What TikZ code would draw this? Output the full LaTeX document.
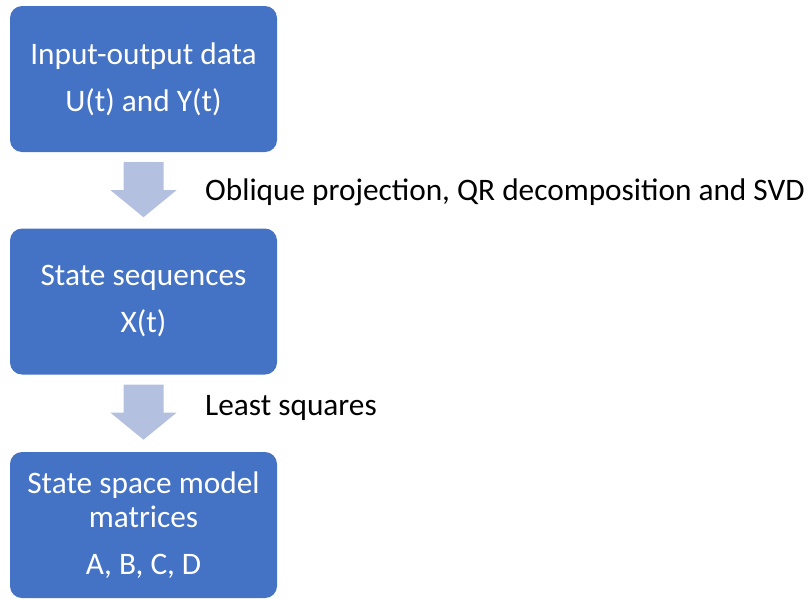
\documentclass[tikz,border=0pt]{standalone}
\usepackage{fontspec}
\setmainfont{Carlito}
\usetikzlibrary{calc}
\definecolor{boxblue}{HTML}{4472C4}
\definecolor{arrowblue}{HTML}{B4C0E0}
\begin{document}
\begin{tikzpicture}[x=1pt,y=-1pt,
  procbox/.style={fill=boxblue, draw=none, rounded corners=12pt, minimum width=267pt, minimum height=146pt, text=white, align=center, font=\fontsize{31.3}{34}\selectfont, inner sep=0pt},
  steplabel/.style={anchor=base west, inner sep=0pt, font=\fontsize{31.3}{34}\selectfont, text=black},
  blockarrow/.style={fill=arrowblue, draw=none}]
\useasboundingbox (0,0) rectangle (810,598);
\node[procbox] (b1) at (143.5,79) {Input-output data\\[13pt]U(t) and Y(t)};
\node[procbox] (b2) at (143.5,301.5) {State sequences\\[13pt]X(t)};
\node[procbox] (b3) at (143.5,525) {State space model\\matrices\\[13pt]A, B, C, D};
\fill[blockarrow] ($(b1.south)+(-20,10)$) -- ($(b1.south)+(20,10)$) -- ($(b1.south)+(20,38)$) -- ($(b1.south)+(33,38)$) -- ($(b1.south)+(0,65)$) -- ($(b1.south)+(-33,38)$) -- ($(b1.south)+(-20,38)$) -- cycle;
\fill[blockarrow] ($(b2.south)+(-20,10)$) -- ($(b2.south)+(20,10)$) -- ($(b2.south)+(20,38)$) -- ($(b2.south)+(33,38)$) -- ($(b2.south)+(0,65)$) -- ($(b2.south)+(-33,38)$) -- ($(b2.south)+(-20,38)$) -- cycle;
\node[steplabel] (l1) at (205,200) {Oblique projection, QR decomposition and SVD};
\node[steplabel] (l2) at (205,415) {Least squares};
\end{tikzpicture}
\end{document}
